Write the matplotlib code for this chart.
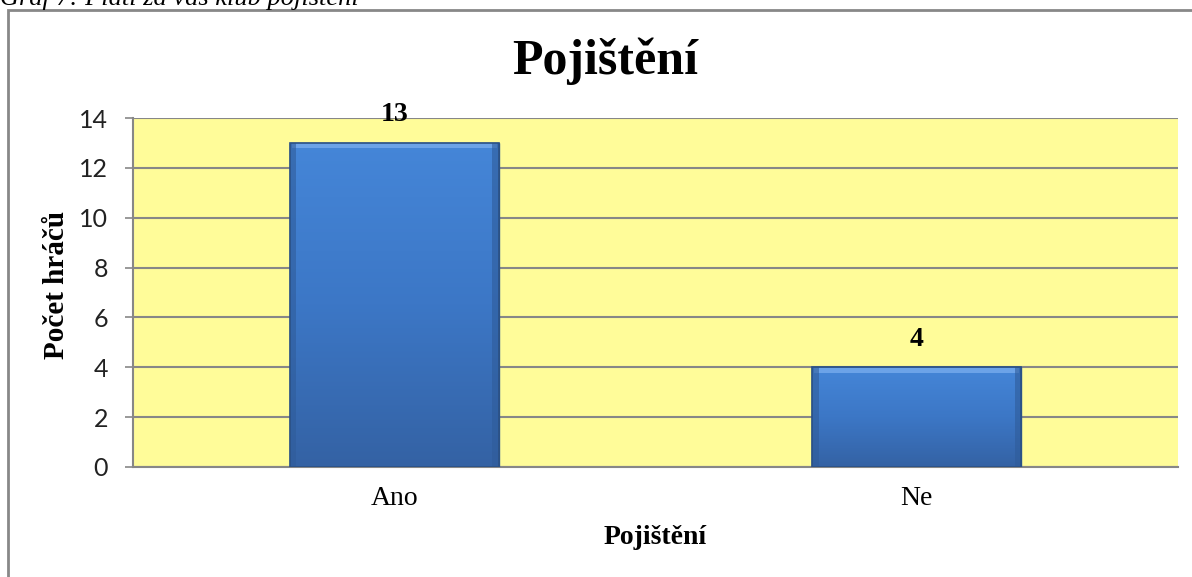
import numpy as np
import matplotlib
matplotlib.use("Agg")
from matplotlib import pyplot as plt
from matplotlib.patches import Rectangle
from matplotlib.colors import LinearSegmentedColormap

categories = ["Ano", "Ne"]
values = [13, 4]
yticks = [0, 2, 4, 6, 8, 10, 12, 14]

W, H = 1192, 577
fig = plt.figure(figsize=(W / 100, H / 100), dpi=100)
fig.patch.set_facecolor("white")

# axes placed by pixel measurements of the reference
ax = fig.add_axes([133 / W, 1 - 467 / H, (1178 - 133) / W, (467 - 118) / H])
ax.set_facecolor("#FFFC99")

x = np.arange(len(categories))
bars = ax.bar(x, values, width=0.4, color="#3D78C8", edgecolor="#2E5A94", linewidth=1.0, zorder=3)

# vertical gradient on the bars
cmap = LinearSegmentedColormap.from_list("bar", ["#3462A4", "#3C77C6", "#4586D8"])
grad = np.linspace(0, 1, 256).reshape(-1, 1)
for b in bars:
    x0, w, h = b.get_x(), b.get_width(), b.get_height()
    im = ax.imshow(grad, cmap=cmap, origin="lower", aspect="auto",
                   extent=[x0, x0 + w, 0, h], zorder=3.5)
    im.set_clip_path(b)
    # light bevel along the top, darker sides
    ax.add_patch(Rectangle((x0 + 0.004, h - 0.22), w - 0.008, 0.2, color="#6CA3E8",
                           zorder=3.6, linewidth=0))
    ax.add_patch(Rectangle((x0, 0), 0.012, h, color="#2F5C9A", alpha=0.6, zorder=3.6, linewidth=0))
    ax.add_patch(Rectangle((x0 + w - 0.012, 0), 0.012, h, color="#2F5C9A", alpha=0.6, zorder=3.6, linewidth=0))
    ax.add_patch(Rectangle((x0, 0), w, h, fill=False, edgecolor="#2B5185",
                           linewidth=1.2, zorder=3.7))
    ax.text(x0 + w / 2, h + 0.62, str(int(h)), ha="center", va="bottom",
            fontsize=20, fontweight="bold", family="Liberation Serif", zorder=4)

ax.set_xlim(-0.5, 1.5)
ax.set_ylim(0, 14)
ax.set_yticks(yticks)
ax.set_xticks(x)
ax.set_xticklabels(categories, family="Liberation Serif", fontsize=20)
ax.tick_params(axis="x", length=0, pad=14)
ax.tick_params(axis="y", length=6, width=1.2, color="#878787", labelsize=18, pad=12)
for lbl in ax.get_yticklabels():
    lbl.set_family("Lato")
    lbl.set_color("#222222")
ax.yaxis.grid(True, color="#878787", linewidth=1.5, zorder=1)
ax.set_axisbelow(True)
for s in ["top", "right"]:
    ax.spines[s].set_visible(False)
for s in ["left", "bottom"]:
    ax.spines[s].set_color("#878787")
    ax.spines[s].set_linewidth(1.5)

ax.set_xlabel("Pojištění", family="Liberation Serif", fontweight="bold", fontsize=20, labelpad=10)
ax.set_ylabel("Počet hráčů", family="Liberation Serif", fontweight="bold", fontsize=21)
ax.yaxis.set_label_coords(57 / W, 1 - 285 / H, transform=fig.transFigure)
ax.yaxis.label.set_verticalalignment("center")

fig.text(605 / W, 1 - 61 / H, "Pojištění", ha="center", va="center",
         family="Liberation Serif", fontweight="bold", fontsize=36)

# outer chart frame (cut by the image edges)
fig.add_artist(Rectangle((8 / W, -0.02), 1.05, 1 - 10 / H + 0.02, transform=fig.transFigure,
                         fill=False, edgecolor="#888888", linewidth=2))

# caption above, mostly cut off
fig.text(0.0, 1 - 5 / H, "Graf 7: Platí za vás klub pojištění", ha="left", va="baseline",
         family="Liberation Serif", style="italic", fontsize=19)

fig.savefig("out.png", dpi=100)
